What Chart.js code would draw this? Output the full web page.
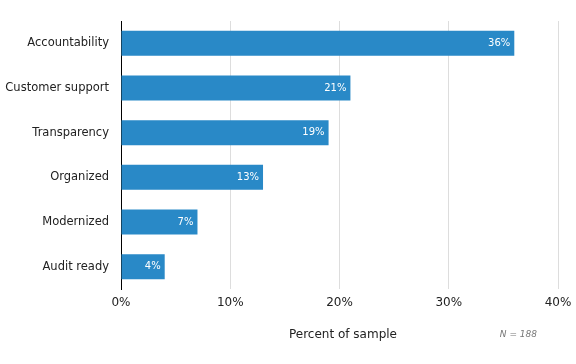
<html>
<head>
<meta charset="UTF-8">
<script src="https://cdn.jsdelivr.net/npm/chart.js@4/dist/chart.umd.min.js"></script>
<style>
  body { margin: 0; background: #fff; }
  #wrap { width: 576px; height: 364px; position: relative; }
</style>
</head>
<body>
<div id="wrap"><canvas id="c" width="576" height="364"></canvas></div>
<script>
var categories = ['Accountability', 'Customer support', 'Transparency', 'Organized', 'Modernized', 'Audit ready'];
var shares = [36, 21, 19, 13, 7, 4];
var xTicks = [0, 10, 20, 30, 40];
var axisTitle = 'Percent of sample';
var sampleNote = 'N = 188';

var font = 'DejaVu Sans';

// labels at the end of each bar, axis title and the N note
var labelsPlugin = {
  id: 'barLabels',
  afterDatasetsDraw: function(chart) {
    var ctx = chart.ctx;
    var meta = chart.getDatasetMeta(0);
    ctx.save();
    ctx.font = '10px "' + font + '"';
    ctx.fillStyle = '#ffffff';
    ctx.textAlign = 'right';
    ctx.textBaseline = 'middle';
    meta.data.forEach(function(bar, i) {
      ctx.fillText(shares[i] + '%', bar.x - 4, bar.y);
    });
    ctx.font = 'italic 9px "' + font + '"';
    ctx.fillStyle = '#777777';
    ctx.fillText(sampleNote, 537, 335);
    ctx.font = '12px "' + font + '"';
    ctx.fillStyle = '#222';
    ctx.textAlign = 'center';
    ctx.fillText(axisTitle, 343, 335);
    ctx.restore();
  }
};

new Chart(document.getElementById('c').getContext('2d'), {
  type: 'bar',
  data: {
    labels: categories,
    datasets: [{
      data: shares,
      backgroundColor: '#2989c7',
      barPercentage: 0.56,
      categoryPercentage: 1.0
    }]
  },
  options: {
    indexAxis: 'y',
    responsive: false,
    animation: false,
    layout: { padding: { top: 21, right: 18, left: 0, bottom: 0 } },
    plugins: { legend: { display: false }, tooltip: { enabled: false } },
    scales: {
      x: {
        min: 0, max: 40,
        afterBuildTicks: function(axis) { axis.ticks = xTicks.map(function(v) { return { value: v }; }); },
        afterFit: function(axis) { axis.height = 75; axis.paddingRight = 0; axis.paddingLeft = 0; },
        grid: { color: '#dddddd', drawTicks: false },
        border: { display: false },
        ticks: {
          padding: 7,
          color: '#222',
          font: { family: font, size: 12 },
          callback: function(v) { return v + '%'; }
        }
      },
      y: {
        afterFit: function(axis) { axis.width = 121; },
        grid: { display: false, drawTicks: false },
        border: { display: true, color: '#000', width: 1 },
        ticks: {
          padding: 12,
          color: '#222',
          font: { family: font, size: 11.5 }
        }
      }
    }
  },
  plugins: [labelsPlugin]
});
</script>
</body>
</html>
